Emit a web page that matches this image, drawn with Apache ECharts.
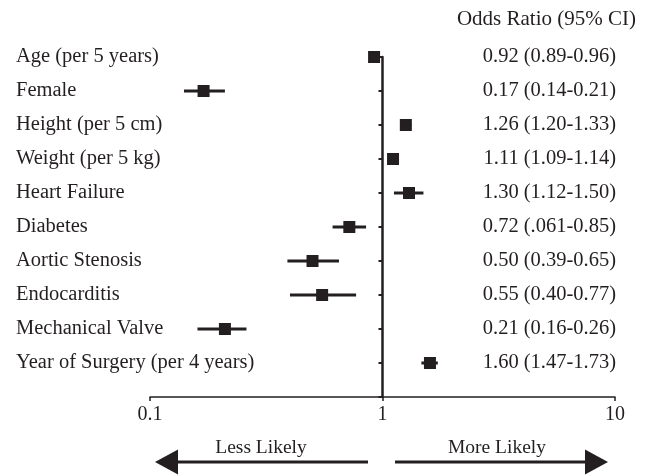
<!DOCTYPE html>
<html>
<head>
<meta charset="utf-8">
<script src="https://cdn.jsdelivr.net/npm/echarts@6/dist/echarts.min.js"></script>
<style>html,body{margin:0;padding:0;background:#fff}#c{width:651px;height:475px}</style>
</head>
<body>
<div id="c"></div>
<script>
var categories = ['Age (per 5 years)','Female','Height (per 5 cm)','Weight (per 5 kg)','Heart Failure','Diabetes','Aortic Stenosis','Endocarditis','Mechanical Valve','Year of Surgery (per 4 years)'];
var oddsRatio = [0.92,0.17,1.26,1.11,1.30,0.72,0.50,0.55,0.21,1.60];
var ciLow = [0.89,0.14,1.20,1.09,1.12,0.61,0.39,0.40,0.16,1.47];
var ciHigh = [0.96,0.21,1.33,1.14,1.50,0.85,0.65,0.77,0.26,1.73];
var ciLabels = ['0.92 (0.89-0.96)','0.17 (0.14-0.21)','1.26 (1.20-1.33)','1.11 (1.09-1.14)','1.30 (1.12-1.50)','0.72 (.061-0.85)','0.50 (0.39-0.65)','0.55 (0.40-0.77)','0.21 (0.16-0.26)','1.60 (1.47-1.73)'];
var xTicks = [0.1, 1, 10];
var headerText = 'Odds Ratio (95% CI)';
var arrowLabels = ['Less Likely','More Likely'];

var FONT = 'Liberation Serif';
var INK = '#231f20';
var FS = 20.5;
var axisCats = categories.concat(['']);
var labelCats = ciLabels.concat(['']);

var chart = echarts.init(document.getElementById('c'));
var ciData = categories.map(function(c,i){return [ciLow[i], ciHigh[i], i];});
var ptData = categories.map(function(c,i){return [oddsRatio[i], i];});

chart.setOption({
  animation:false,
  backgroundColor:'#fff',
  textStyle:{fontFamily:FONT,color:INK},
  title:{text:headerText,right:10,top:4,textStyle:{fontFamily:FONT,fontSize:21,fontWeight:'normal',color:INK}},
  grid:{left:150,right:36,top:57,bottom:78},
  xAxis:{type:'log',logBase:10,min:xTicks[0],max:xTicks[xTicks.length-1],
    axisLine:{show:true,onZero:false,lineStyle:{color:INK,width:1.5}},
    axisTick:{show:true,length:4,lineStyle:{color:INK,width:1.5}},
    minorTick:{show:false},splitLine:{show:false},
    axisLabel:{fontFamily:FONT,fontSize:20,color:INK,margin:8,formatter:function(v){return String(+v.toPrecision(3));}}},
  yAxis:[
    {type:'category',inverse:true,boundaryGap:false,data:axisCats,position:'left',
      axisLine:{show:false},axisTick:{show:false},splitLine:{show:false},
      axisLabel:{align:'left',margin:134,fontFamily:FONT,fontSize:FS,color:INK}},
    {type:'category',inverse:true,boundaryGap:false,data:axisCats,position:'left',offset:-232.5,
      axisLine:{show:true,onZero:false,lineStyle:{color:INK,width:2.5}},
      axisTick:{show:true,length:4,lineStyle:{color:INK,width:2}},
      axisLabel:{show:false},splitLine:{show:false}},
    {type:'category',inverse:true,boundaryGap:false,data:labelCats,position:'right',
      axisLine:{show:false},axisTick:{show:false},splitLine:{show:false},
      axisLabel:{align:'right',margin:1,fontFamily:FONT,fontSize:FS,color:INK}}
  ],
  series:[
    {type:'custom',yAxisIndex:0,data:ciData,encode:{x:[0,1],y:2},
      renderItem:function(params,api){
        var a=api.coord([api.value(0),api.value(2)]);
        var b=api.coord([api.value(1),api.value(2)]);
        return {type:'line',shape:{x1:a[0],y1:a[1],x2:b[0],y2:b[1]},style:{stroke:INK,lineWidth:3}};
      }},
    {type:'scatter',yAxisIndex:0,data:ptData,symbol:'rect',symbolSize:12,itemStyle:{color:INK,opacity:1}}
  ],
  graphic:[
    {type:'text',style:{text:arrowLabels[0],font:'19.5px "'+FONT+'"',fill:INK,x:261,y:448,textAlign:'center',textVerticalAlign:'middle'}},
    {type:'text',style:{text:arrowLabels[1],font:'19.5px "'+FONT+'"',fill:INK,x:497,y:448,textAlign:'center',textVerticalAlign:'middle'}},
    {type:'line',shape:{x1:176,y1:462,x2:368,y2:462},style:{stroke:INK,lineWidth:3}},
    {type:'polygon',shape:{points:[[155,462],[178,449.5],[178,474.5]]},style:{fill:INK}},
    {type:'line',shape:{x1:395,y1:462,x2:587,y2:462},style:{stroke:INK,lineWidth:3}},
    {type:'polygon',shape:{points:[[608,462],[585,449.5],[585,474.5]]},style:{fill:INK}}
  ]
});
</script>
</body>
</html>
